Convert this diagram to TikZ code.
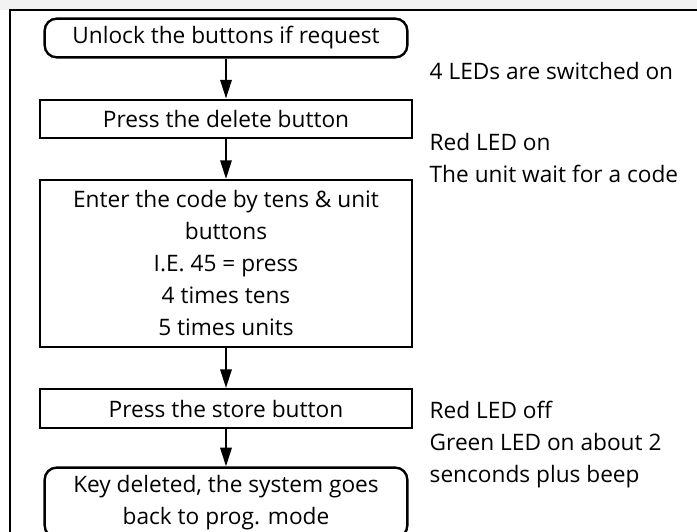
\documentclass[tikz,border=0pt]{standalone}
\usepackage{fontspec}
\setmainfont{Open Sans}
\usetikzlibrary{arrows.meta, positioning}

\begin{document}
\begin{tikzpicture}[x=0.75pt, y=-0.75pt, node distance=30pt,
        every node/.style={font=\fontsize{17}{24}\selectfont},
        stepbox/.style={rectangle, draw, line width=1.8pt, minimum width=279pt, align=center, inner sep=2pt},
        endbox/.style={stepbox, minimum width=272pt, rounded corners=9pt},
        note/.style={anchor=base west, align=left},
        line/.style={draw, line width=1.6pt, -{Triangle[length=14pt, width=8.5pt]}}]

        \useasboundingbox (0,0) rectangle (697,532);

        % Frame
        \fill[black!5] (0,0) rectangle (697,10);
        \draw[line width=1pt] (697,10) -- (10,10) -- (10,532);

        % Nodes
        \node [endbox, minimum height=29pt] (unlock) at (226,38) {Unlock the buttons if request};
        \node [stepbox, below=of unlock, minimum height=28.5pt] (delete) {Press the delete button};
        \node [stepbox, below=of delete, minimum height=125pt] (code) {Enter the code by tens \& unit\\buttons\\I.E. 45 = press\\4 times tens\\5 times units};
        \node [stepbox, below=of code, minimum height=29pt] (store) {Press the store button};
        \node [endbox, below=28pt of store, minimum height=52.5pt] (done) {Key deleted, the system goes\\back to prog. mode};

        % Notes (base = last line)
        \node [note] (leds) at (425,79) {4 LEDs are switched on};
        \node [note] (redon) at (425,182) {Red LED on\\The unit wait for a code};
        \node [note] (redoff) at (425,482) {Red LED off\\Green LED on about 2\\senconds plus beep};

        % Edges
        \path [line] (unlock) -- (delete);
        \path [line] (delete) -- (code);
        \path [line] (code) -- (store);
        \path [line] (store) -- (done);
    \end{tikzpicture}
\end{document}
